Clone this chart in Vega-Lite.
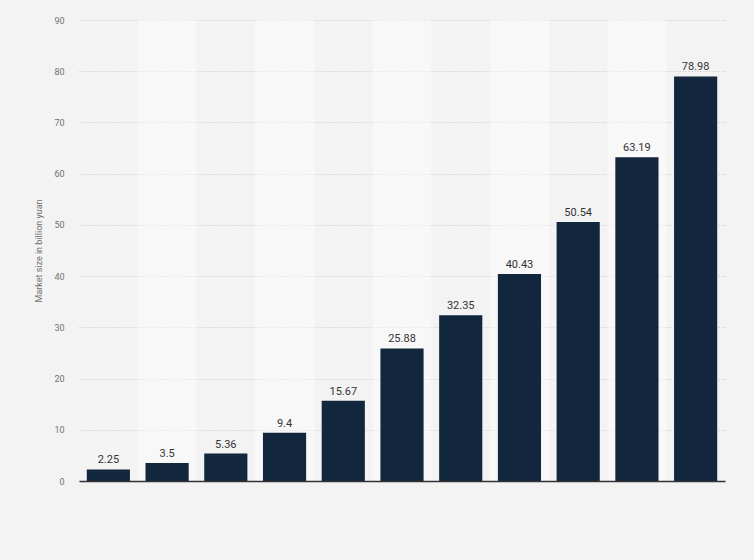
{
  "$schema": "https://vega.github.io/schema/vega-lite/v6.json",
  "width": 646,
  "height": 461,
  "autosize": "none",
  "padding": {"left": 79, "top": 20, "right": 29, "bottom": 79},
  "background": "#f3f3f3",
  "config": {
    "view": {"stroke": null},
    "font": "Roboto"
  },
  "data": {
    "values": [
      {"year": "2015", "size": 2.25},
      {"year": "2016", "size": 3.5},
      {"year": "2017", "size": 5.36},
      {"year": "2018", "size": 9.4},
      {"year": "2019", "size": 15.67},
      {"year": "2020", "size": 25.88},
      {"year": "2021", "size": 32.35},
      {"year": "2022", "size": 40.43},
      {"year": "2023", "size": 50.54},
      {"year": "2024", "size": 63.19},
      {"year": "2025", "size": 78.98}
    ]
  },
  "transform": [
    {"window": [{"op": "row_number", "as": "idx"}]}
  ],
  "encoding": {
    "x": {
      "field": "year",
      "type": "ordinal",
      "scale": {"paddingInner": 0, "paddingOuter": 0},
      "axis": {
        "labels": false,
        "ticks": false,
        "title": null,
        "domainColor": "#333333",
        "domainWidth": 1.5
      }
    }
  },
  "layer": [
    {
      "mark": {"type": "rect", "color": "#ffffff"},
      "encoding": {
        "y": {"datum": 0, "type": "quantitative"},
        "y2": {"datum": 90},
        "opacity": {
          "condition": {"test": "datum.idx % 2 == 0", "value": 0.45},
          "value": 0
        }
      }
    },
    {
      "mark": {"type": "bar", "color": "#12263d", "width": {"band": 0.735}},
      "encoding": {
        "y": {
          "field": "size",
          "type": "quantitative",
          "scale": {"domain": [0, 90], "nice": false},
          "axis": {
            "values": [0, 10, 20, 30, 40, 50, 60, 70, 80, 90],
            "title": "Market size in billion yuan",
            "titleFontSize": 9,
            "titleFontWeight": "normal",
            "titleColor": "#707070",
            "titlePadding": 10,
            "labelFontSize": 9,
            "labelColor": "#707070",
            "labelPadding": 15,
            "ticks": false,
            "domain": false,
            "grid": true,
            "gridColor": "#c4c4c4",
            "gridDash": [1, 2],
            "gridWidth": 1
          }
        }
      }
    },
    {
      "mark": {"type": "text", "dy": -9, "fontSize": 11, "color": "#333333"},
      "encoding": {
        "y": {"field": "size", "type": "quantitative"},
        "text": {"field": "size", "type": "quantitative"}
      }
    }
  ]
}
